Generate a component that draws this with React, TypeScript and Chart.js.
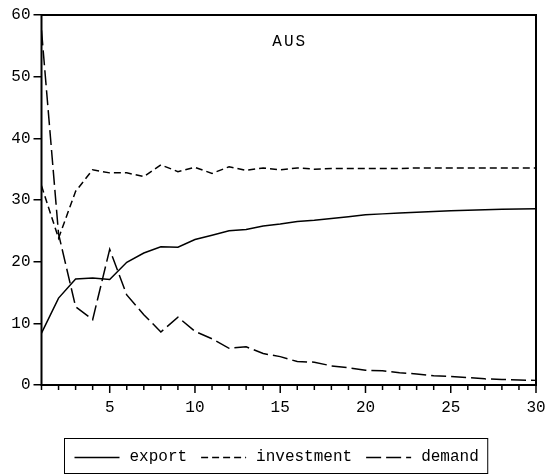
import React, { useEffect, useRef } from "react";
import { Chart, registerables } from "chart.js";

Chart.register(...registerables);

const periods = Array.from({ length: 30 }, (_, i) => String(i + 1));
const exportSeries = [8.4, 14.1, 17.2, 17.35, 17.1, 19.9, 21.4, 22.4, 22.35, 23.6, 24.3, 25.0, 25.2, 25.8, 26.1, 26.5, 26.7, 27.0, 27.3, 27.6, 27.75, 27.9, 28.0, 28.15, 28.25, 28.35, 28.4, 28.5, 28.55, 28.6];
const investmentSeries = [32.3, 23.8, 31.4, 34.9, 34.4, 34.4, 33.8, 35.7, 34.6, 35.3, 34.3, 35.4, 34.8, 35.2, 34.9, 35.2, 35.0, 35.1, 35.1, 35.1, 35.1, 35.1, 35.2, 35.2, 35.2, 35.2, 35.2, 35.2, 35.2, 35.2];
const demandSeries = [57.5, 24.5, 12.7, 10.6, 22.0, 14.6, 11.4, 8.6, 11.0, 8.7, 7.5, 5.95, 6.2, 5.1, 4.6, 3.8, 3.7, 3.1, 2.8, 2.4, 2.3, 2.0, 1.8, 1.5, 1.4, 1.2, 1.0, 0.9, 0.8, 0.75];
const seriesLabels = ["export", "investment", "demand"];
const titleText = "AUS";

const FAMILY = "'Liberation Mono', 'DejaVu Sans Mono', monospace";
const FONT = "16px " + FAMILY;

const framePlugin = {
  id: "framePlugin",
  afterDraw(chart: any) {
    const { ctx, chartArea: a, scales } = chart;
    const xs = scales.x;
    ctx.save();
    ctx.strokeStyle = "#000";
    ctx.setLineDash([]);
    ctx.lineWidth = 2;
    ctx.strokeRect(a.left, a.top, a.right - a.left, a.bottom - a.top);
    // x ticks
    ctx.lineWidth = 1.5;
    for (let i = 0; i < periods.length; i++) {
      const px = xs.getPixelForValue(i);
      const len = (i + 1) % 5 === 0 ? 8 : 5;
      ctx.beginPath();
      ctx.moveTo(px, a.bottom);
      ctx.lineTo(px, a.bottom + len);
      ctx.stroke();
    }
    // title
    ctx.fillStyle = "#000";
    ctx.font = FONT;
    ctx.textAlign = "center";
    ctx.textBaseline = "alphabetic";
    try { (ctx as any).letterSpacing = "2px"; } catch (e) {}
    ctx.fillText(titleText, (a.left + a.right) / 2 + 1, a.top + 31);
    try { (ctx as any).letterSpacing = "0px"; } catch (e) {}
    // legend
    const ds = chart.data.datasets;
    const sampleW = 45, gapST = 10, gapItems = 14, padL = 10, padR = 9;
    ctx.font = FONT;
    const widths = ds.map((d: any) => ctx.measureText(d.label).width);
    let total = padL + padR + gapItems * (ds.length - 1);
    widths.forEach((w: number) => (total += sampleW + gapST + w));
    const W = chart.width;
    const boxL = Math.round((W - total) / 2) + 1.5;
    const boxT = a.bottom + 53.5;
    const boxH = 35;
    ctx.lineWidth = 1;
    ctx.strokeRect(boxL, boxT, total, boxH);
    let cx = boxL + padL;
    ctx.textAlign = "left";
    ds.forEach((d: any, i: number) => {
      ctx.save();
      ctx.lineWidth = 1.5;
      ctx.setLineDash(d.borderDash || []);
      ctx.beginPath();
      ctx.moveTo(cx, boxT + 19);
      ctx.lineTo(cx + sampleW, boxT + 19);
      ctx.stroke();
      ctx.restore();
      cx += sampleW + gapST;
      ctx.fillText(d.label, cx, boxT + 22);
      cx += widths[i] + gapItems;
    });
    ctx.restore();
  },
};

export default function App() {
  const ref = useRef<HTMLCanvasElement | null>(null);
  useEffect(() => {
    if (!ref.current) return;
    const chart = new Chart(ref.current, {
      type: "line",
      data: {
        labels: periods,
        datasets: [
          { label: seriesLabels[0], data: exportSeries, borderColor: "#000", borderWidth: 1.5, borderDash: [], pointRadius: 0, tension: 0, fill: false },
          { label: seriesLabels[1], data: investmentSeries, borderColor: "#000", borderWidth: 1.5, borderDash: [7, 4], pointRadius: 0, tension: 0, fill: false },
          { label: seriesLabels[2], data: demandSeries, borderColor: "#000", borderWidth: 1.5, borderDash: [15, 5], pointRadius: 0, tension: 0, fill: false },
        ],
      },
      options: {
        responsive: false,
        animation: false,
        layout: { padding: { top: 15, right: 13, left: 0, bottom: 0 } },
        plugins: { legend: { display: false }, tooltip: { enabled: false }, title: { display: false } },
        scales: {
          x: {
            type: "category",
            offset: false,
            grid: { display: false },
            border: { display: false },
            ticks: {
              autoSkip: false,
              maxRotation: 0,
              padding: 5,
              color: "#000",
              font: { family: FAMILY, size: 16 },
              callback: (_v: any, i: number) => ((i + 1) % 5 === 0 ? String(i + 1) : ""),
            },
            afterFit: (s: any) => { s.height = 89; s.paddingLeft = 0; s.paddingRight = 0; },
          },
          y: {
            min: 0,
            max: 60,
            grid: { display: true, drawOnChartArea: false, drawTicks: true, tickLength: 8, color: "#000", lineWidth: 1.5 },
            border: { display: false },
            ticks: {
              stepSize: 10,
              padding: 3,
              color: "#000",
              font: { family: FAMILY, size: 16 },
            },
            afterFit: (s: any) => { s.width = 41.5; s.paddingTop = 0; s.paddingBottom = 0; },
          },
        },
      },
      plugins: [framePlugin],
    });
    return () => chart.destroy();
  }, []);
  return (
    <div style={{ position: "fixed", left: 0, top: 0, width: 549, height: 474, background: "#fff" }}>
      <canvas ref={ref} width={549} height={474} style={{ display: "block" }} />
    </div>
  );
}
